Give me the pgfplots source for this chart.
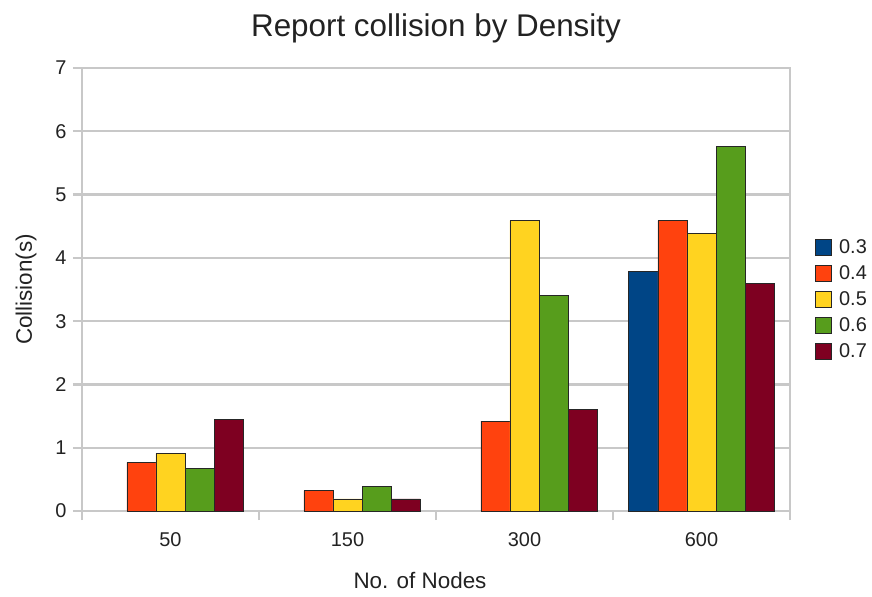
\documentclass[border=0pt]{standalone}
\usepackage{pgfplots}
\pgfplotsset{compat=1.18}
\usepackage{fontspec}
\setmainfont{Liberation Sans}
\definecolor{cA}{HTML}{004586}
\definecolor{cB}{HTML}{FF420E}
\definecolor{cC}{HTML}{FFD320}
\definecolor{cD}{HTML}{579D1C}
\definecolor{cE}{HTML}{7E0021}
\definecolor{gridgray}{HTML}{C8C8C8}
\definecolor{txt}{HTML}{222222}
\begin{document}
\begin{tikzpicture}
\begin{axis}[
  width=708bp, height=443bp, scale only axis,
  xmin=-0.5, xmax=3.5, ymin=0, ymax=7,
  ybar=0pt, bar width=0.164,
  xtick={0,1,2,3}, xticklabels={50,150,300,600},
  minor xtick={-0.5,0.5,1.5,2.5,3.5},
  ytick={0,1,2,3,4,5,6,7},
  xtick pos=lower, ytick pos=left,
  tick align=outside,
  major x tick style={draw=none},
  major tick length=9bp, minor tick length=9bp,
  tick style={gridgray, line width=2.2bp},
  ymajorgrids, grid style={gridgray, line width=2.2bp},
  axis line style={gridgray, line width=2.2bp},
  /pgf/number format/assume math mode=true,
  tick label style={font=\fontsize{20}{24}\selectfont, text=txt},
  xticklabel style={yshift=-9bp},
  yticklabel style={xshift=-3bp},
  title={\fontsize{31.5}{36}\selectfont Report collision by Density},
  title style={at={(0.5,1)}, anchor=base, yshift=26bp, text=txt},
  xlabel={\fontsize{22.5}{26}\selectfont No. of Nodes},
  xlabel style={at={(0.5,0)}, anchor=base, yshift=-77bp, xshift=-16bp, text=txt},
  ylabel={\fontsize{22.5}{26}\selectfont Collision(s)},
  ylabel style={at={(0,0.5)}, anchor=base, yshift=50bp, text=txt},
  legend style={at={(1,0.5)}, anchor=west, xshift=25bp, yshift=-10bp,
    draw=none, fill=none, font=\fontsize{20}{24}\selectfont, text=txt,
    row sep=6.5bp, inner sep=0pt},
  legend cell align=left,
  legend image code/.code={\draw[#1, line width=1bp] (0bp,-8bp) rectangle (16bp,8bp); \path (21bp,0bp);},
  every axis plot/.append style={draw=black!85, line width=0.9bp},
]
\addplot[fill=cA] coordinates {(3,3.78)};
\addplot[fill=cB] coordinates {(0,0.77) (1,0.32) (2,1.42) (3,4.59)};
\addplot[fill=cC] coordinates {(0,0.91) (1,0.19) (2,4.59) (3,4.39)};
\addplot[fill=cD] coordinates {(0,0.67) (1,0.39) (2,3.41) (3,5.76)};
\addplot[fill=cE] coordinates {(0,1.45) (1,0.19) (2,1.61) (3,3.59)};
\legend{0.3,0.4,0.5,0.6,0.7}
\end{axis}
\pgfresetboundingbox
\path[use as bounding box] ([shift={(-82bp,-86bp)}]current axis.south west) rectangle ([shift={(82bp,68bp)}]current axis.north east);
\end{tikzpicture}
\end{document}
